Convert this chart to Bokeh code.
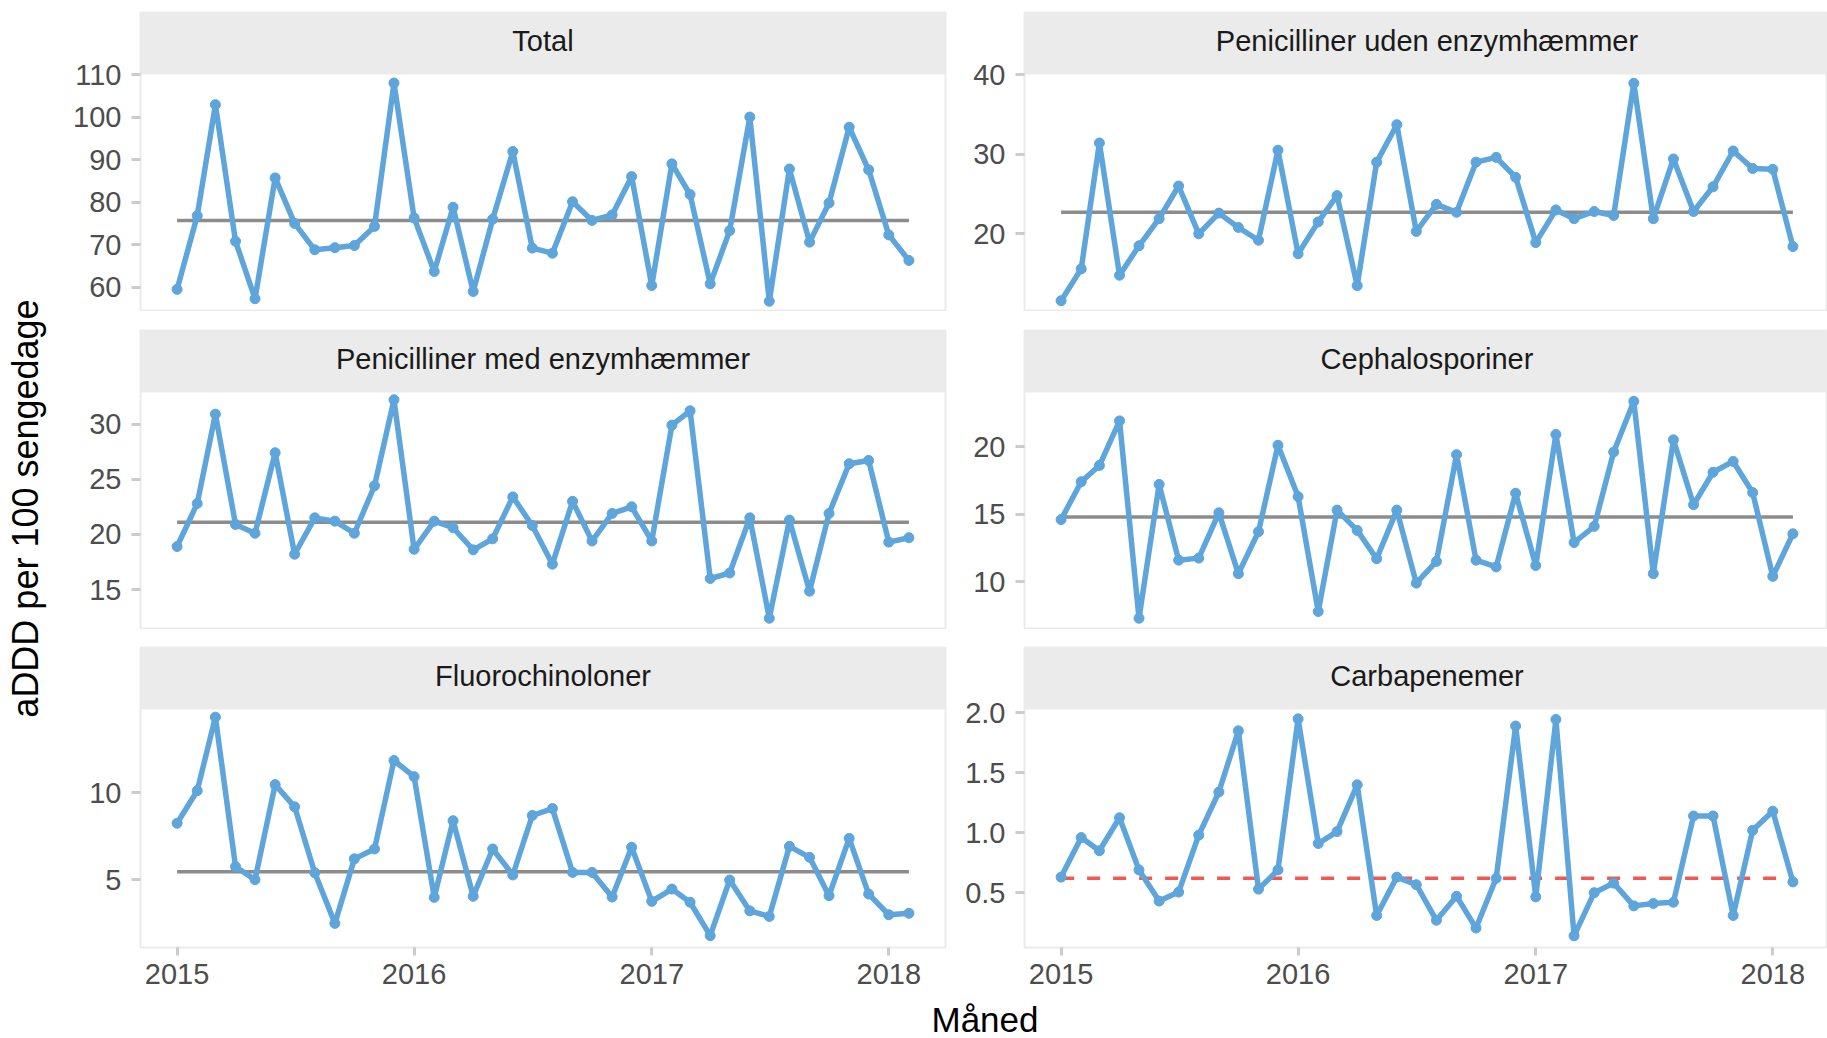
import numpy as np
import pandas as pd
from bokeh.plotting import figure
from bokeh.layouts import row, column
from bokeh.models import (Range1d, FixedTicker, DatetimeTickFormatter, PrintfTickFormatter,
                          BoxAnnotation)
from bokeh.embed import file_html
from bokeh.resources import INLINE
from bokeh.core.properties import value

# ---------------- data ----------------
months = pd.date_range("2015-01-01", periods=38, freq="MS")
year_ticks = ["2015-01-01", "2016-01-01", "2017-01-01", "2018-01-01"]

titles = ["Total", "Penicilliner uden enzymhæmmer", "Penicilliner med enzymhæmmer",
          "Cephalosporiner", "Fluorochinoloner", "Carbapenemer"]

total = [59.5, 76.8, 102.9, 70.8, 57.3, 85.7, 75.0, 68.8, 69.3, 69.8, 74.3, 108.0, 76.3,
         63.7, 78.8, 59.0, 76.0, 91.9, 69.2, 68.0, 80.1, 75.7, 77.0, 86.0, 60.4, 89.0,
         81.8, 60.8, 73.3, 100.0, 56.7, 87.8, 70.6, 79.8, 97.6, 87.6, 72.3, 66.3]
pen_uden = [11.6, 15.6, 31.4, 14.8, 18.5, 21.9, 26.0, 20.0, 22.6, 20.8, 19.2, 30.5, 17.5,
            21.5, 24.8, 13.5, 29.0, 33.7, 20.3, 23.7, 22.7, 29.0, 29.6, 27.1, 18.9, 23.0,
            21.9, 22.8, 22.3, 38.9, 21.9, 29.4, 22.8, 25.9, 30.4, 28.2, 28.1, 18.4]
pen_med = [18.9, 22.8, 30.9, 20.9, 20.1, 27.4, 18.2, 21.5, 21.2, 20.1, 24.4, 32.2, 18.65,
           21.2, 20.6, 18.6, 19.6, 23.4, 20.8, 17.3, 23.0, 19.4, 21.9, 22.5, 19.4, 29.9,
           31.2, 16.0, 16.5, 21.5, 12.4, 21.3, 14.85, 21.9, 26.4, 26.7, 19.3, 19.7]
ceph = [14.6, 17.4, 18.6, 21.9, 7.3, 17.2, 11.6, 11.75, 15.1, 10.6, 13.7, 20.1, 16.3,
        7.8, 15.3, 13.8, 11.7, 15.3, 9.9, 11.5, 19.4, 11.6, 11.1, 16.55, 11.2, 20.9,
        12.9, 14.1, 19.6, 23.35, 10.6, 20.5, 15.7, 18.1, 18.9, 16.6, 10.4, 13.55]
fluoro = [8.25, 10.13, 14.37, 5.75, 5.0, 10.48, 9.2, 5.4, 2.48, 6.2, 6.77, 11.87, 10.94,
          3.98, 8.4, 4.04, 6.77, 5.27, 8.7, 9.1, 5.42, 5.42, 4.0, 6.87, 3.75, 4.46,
          3.7, 1.77, 4.98, 3.2, 2.88, 6.92, 6.29, 4.08, 7.38, 4.17, 2.98, 3.06]
carb = [0.63, 0.96, 0.85, 1.125, 0.69, 0.43, 0.505, 0.98, 1.34, 1.85, 0.53, 0.69, 1.95,
        0.91, 1.01, 1.40, 0.31, 0.63, 0.567, 0.27, 0.47, 0.205, 0.62, 1.89, 0.465, 1.945,
        0.14, 0.50, 0.58, 0.39, 0.41, 0.42, 1.14, 1.14, 0.31, 1.02, 1.18, 0.59]
series = [total, pen_uden, pen_med, ceph, fluoro, carb]

centre = [75.7, 22.7, 21.1, 14.8, 5.46, 0.62]
centre_signal = [False, False, False, False, False, True]

y_ticks = [[60, 70, 80, 90, 100, 110], [20, 30, 40], [15, 20, 25, 30],
           [10, 15, 20], [5, 10], [0.5, 1.0, 1.5, 2.0]]
y_limits = [(54.3, 110.0), (10.25, 40.0), (11.38, 32.86),
            (6.47, 24.0), (1.09, 14.81), (0.043, 2.028)]

x_title = "Måned"
y_title = "aDDD per 100 sengedage"

# ---------------- style ----------------
FONT = "Liberation Sans"
BLUE = "#5DA5DA"
GREY = "#8C8C8C"
RED = "#F15854"
STRIP = "#EBEBEB"

# ---------------- layout geometry (page has no margin) ----------------
STRIP_H = 62
STRIP_TEXT_UP = 33.5          # strip text centre above strip bottom, px
PANEL_H = [237, 237, 238]
GAP_TOP = [12, 19, 18]
BOTTOM_AXIS = 50
FRAME_W_NOMINAL = 805
YLAB_W = 48
COLS = [dict(width=907, bl=92, br=10, fw=805), dict(width=872, bl=69, br=0, fw=803)]

def ms(t):
    return pd.Timestamp(t).timestamp() * 1000.0

t0, t1 = ms(months[0]), ms(months[-1])
span = t1 - t0
x_start = t0 - 0.05 * span
x_end_full = t1 + 0.05 * span
x_mid = (x_start + x_end_full) / 2


def make_cell(i, col, r, xr):
    c = COLS[col]
    bottom = (r == 2)
    lo, hi = y_limits[i]
    unit = (hi - lo) / PANEL_H[r]          # data units per pixel
    top = hi + STRIP_H * unit               # frame also covers the strip
    h = GAP_TOP[r] + STRIP_H + PANEL_H[r] + (BOTTOM_AXIS if bottom else 0)
    p = figure(width=c["width"], height=h, x_range=xr,
               y_range=Range1d(lo, top), x_axis_type="datetime",
               x_axis_location="below" if bottom else None,
               min_border=0, min_border_left=c["bl"], min_border_right=c["br"],
               min_border_top=GAP_TOP[r], min_border_bottom=BOTTOM_AXIS if bottom else 0,
               toolbar_location=None, output_backend="svg",
               background_fill_color="white", border_fill_color="white",
               outline_line_color="#EBEBEB", outline_line_width=2)
    p.xgrid.visible = False
    p.ygrid.visible = False

    # strip
    p.add_layout(BoxAnnotation(bottom=hi, fill_color=STRIP, fill_alpha=1.0,
                               line_alpha=0.0, level="underlay"))
    p.text(x=[x_mid], y=[hi + STRIP_TEXT_UP * unit], text=[titles[i]],
           text_align="center", text_baseline="middle", text_font=value(FONT),
           text_font_size="29px", text_color="#1A1A1A")

    # centre line (median)
    p.line(x=[months[0], months[-1]], y=[centre[i], centre[i]],
           line_color=RED if centre_signal[i] else GREY, line_width=3.5,
           line_dash="13 13" if centre_signal[i] else "solid")
    # data
    p.line(x=months, y=series[i], line_color=BLUE, line_width=5.5, line_join="round")
    p.scatter(x=months, y=series[i], size=10, fill_color=BLUE, line_color=BLUE)

    ya = p.yaxis[0]
    ya.ticker = FixedTicker(ticks=y_ticks[i])
    if i == 5:
        ya.formatter = PrintfTickFormatter(format="%.1f")
    axes = [ya]
    if bottom:
        xa = p.xaxis[0]
        xa.ticker = FixedTicker(ticks=[ms(t) for t in year_ticks])
        xa.formatter = DatetimeTickFormatter(years="%Y", months="%Y", days="%Y",
                                             hours="%Y", minutes="%Y", seconds="%Y",
                                             milliseconds="%Y", microseconds="%Y")
        axes.append(xa)
    for a in axes:
        a.axis_line_color = None
        a.major_tick_line_color = "#CCCCCC"
        a.major_tick_line_width = 3
        a.major_tick_out = 9
        a.major_tick_in = 0
        a.minor_tick_line_color = None
        a.major_label_text_font = FONT
        a.major_label_text_font_size = "29px"
        a.major_label_text_color = "#4D4D4D"
    ya.major_label_standoff = 10
    if bottom:
        p.xaxis[0].major_tick_out = 8
        p.xaxis[0].major_label_standoff = 8
    return p


columns = []
for col in range(2):
    c = COLS[col]
    x_end = x_start + (x_end_full - x_start) * c["fw"] / FRAME_W_NOMINAL
    xr = Range1d(x_start, x_end)
    kids = [make_cell(r * 2 + col, col, r, xr) for r in range(3)]
    columns.append(column(*kids, spacing=0))

total_h = sum(GAP_TOP) + 3 * STRIP_H + sum(PANEL_H) + BOTTOM_AXIS

ylab = figure(width=YLAB_W, height=total_h, x_range=Range1d(0, YLAB_W),
              y_range=Range1d(0, total_h),
              min_border=0, x_axis_location=None, y_axis_location=None,
              toolbar_location=None, output_backend="svg", outline_line_color=None)
ylab.xgrid.visible = False
ylab.ygrid.visible = False
ylab.text(x=[25], y=[total_h - 508], text=[y_title], angle=np.pi / 2, text_align="center",
          text_baseline="middle", text_font=value(FONT), text_font_size="36px",
          text_color="black")

XW = YLAB_W + COLS[0]["width"] + COLS[1]["width"]
XH = 1038 - total_h
xlab = figure(width=XW, height=XH, x_range=Range1d(0, XW), y_range=Range1d(0, XH),
              min_border=0, x_axis_location=None, y_axis_location=None,
              toolbar_location=None, output_backend="svg", outline_line_color=None)
xlab.xgrid.visible = False
xlab.ygrid.visible = False
xlab.text(x=[984.5], y=[19], text=[x_title], text_align="center",
          text_baseline="middle", text_font=value(FONT), text_font_size="35px",
          text_color="black")

layout = column(row(ylab, columns[0], columns[1], spacing=0), xlab, spacing=0)

open("out.html", "w").write(file_html(layout, INLINE))
